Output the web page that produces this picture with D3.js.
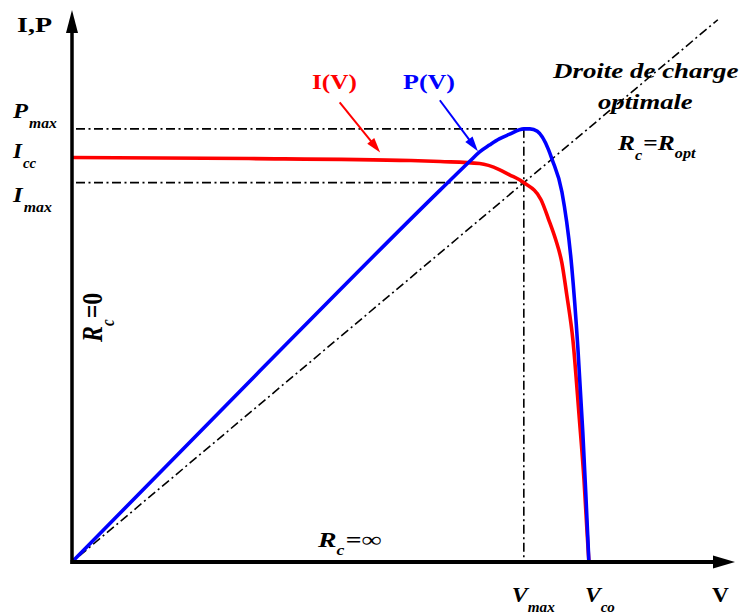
<!DOCTYPE html>
<html>
<head>
<meta charset="utf-8">
<script src="https://cdn.jsdelivr.net/npm/d3@7"></script>
<style>
  html, body { margin: 0; padding: 0; background: #fff; }
  svg { display: block; }
  text { font-family: "Liberation Serif", "Times New Roman", Tinos, serif; font-weight: bold; }
</style>
</head>
<body>
<svg id="chart" width="743" height="616"></svg>
<script>
// I(V) characteristic of the PV module (volts, amperes)
const voltsI  = [0, 7.2, 13.8, 15.0, 16.6, 17.4, 17.8, 18.4, 19.1, 19.4, 19.7, 19.95, 20.15, 20.4, 20.65, 20.85, 20.97, 21.05];
const current = [4.03, 4.02, 4.00, 3.99, 3.97, 3.91, 3.86, 3.78, 3.61, 3.42, 3.21, 2.98, 2.66, 2.21, 1.46, 0.82, 0.32, 0];

// P(V) characteristic (volts, watts)
const voltsP = [0, 7.5, 15.0, 16.2, 16.6, 17.0, 17.4, 17.8, 18.4, 18.65, 18.95, 19.4, 19.55, 19.95, 20.35, 20.6, 20.8, 20.93, 21.05];
const power  = [0, 30.1, 59.8, 64.4, 65.9, 67.0, 68.0, 68.7, 69.6, 69.6, 69.2, 66.3, 64.7, 59.5, 47.5, 34.5, 21.0, 10.5, 0];

// Characteristic points
const Vmax = 18.4, Vco = 21.05, Icc = 4.03, Imax = 3.78, Pmax = 69.6;
// Extent of the optimal load line  I = V / Ropt
const loadLineEndV = 26.3;

const svg = d3.select("#chart");
const x  = d3.scaleLinear().domain([0, 27]).range([72, 735]);
const yI = d3.scaleLinear().domain([0, 5.5]).range([562, 10]);
const yP = d3.scaleLinear().domain([0, 88.7]).range([562, 10]);

const dashDot = "9,3.5,2,3.5";

// ---- reference (dash-dot) lines ----
const ref = svg.append("g").attr("stroke", "#000").attr("stroke-width", 1.6)
  .attr("stroke-dasharray", dashDot).attr("fill", "none");
ref.append("line").attr("x1", x(0) + 4).attr("x2", x(Vmax)).attr("y1", yP(Pmax)).attr("y2", yP(Pmax));
ref.append("line").attr("x1", x(0) + 4).attr("x2", x(Vmax)).attr("y1", yI(Imax)).attr("y2", yI(Imax));
ref.append("line").attr("x1", x(Vmax)).attr("x2", x(Vmax)).attr("y1", yP(Pmax)).attr("y2", yI(0));
ref.append("line")
  .attr("x1", x(0.3)).attr("y1", yI(0.3 * Imax / Vmax))
  .attr("x2", x(loadLineEndV)).attr("y2", yI(loadLineEndV * Imax / Vmax));

// ---- curves ----
const ivLine = d3.line().x(d => x(d[0])).y(d => yI(d[1])).curve(d3.curveMonotoneX);
const pvLine = d3.line().x(d => x(d[0])).y(d => yP(d[1])).curve(d3.curveMonotoneX);

svg.append("path").datum(d3.zip(voltsI, current))
  .attr("d", ivLine).attr("fill", "none").attr("stroke", "#ff0000")
  .attr("stroke-width", 3.6).attr("stroke-linejoin", "round");
svg.append("path").datum(d3.zip(voltsP, power))
  .attr("d", pvLine).attr("fill", "none").attr("stroke", "#0000ff")
  .attr("stroke-width", 3.6).attr("stroke-linejoin", "round");

// ---- axes with arrow heads ----
const axes = svg.append("g");
axes.append("line").attr("x1", x(0) - 1.5).attr("x2", x(27) - 18)
  .attr("y1", yI(0)).attr("y2", yI(0)).attr("stroke", "#000").attr("stroke-width", 4);
axes.append("line").attr("x1", x(0)).attr("x2", x(0))
  .attr("y1", yI(0) + 2).attr("y2", yI(5.5) + 18).attr("stroke", "#000").attr("stroke-width", 3.5);
axes.append("path")
  .attr("d", `M${x(27)},${yI(0)} L${x(27) - 22},${yI(0) - 6.5} L${x(27) - 22},${yI(0) + 6.5} Z`)
  .attr("fill", "#000");
axes.append("path")
  .attr("d", `M${x(0)},${yI(5.5)} L${x(0) - 6},${yI(5.5) + 23} L${x(0) + 6},${yI(5.5) + 23} Z`)
  .attr("fill", "#000");

// ---- annotation arrows ----
function arrow(x1, y1, x2, y2, color) {
  const dx = x2 - x1, dy = y2 - y1, len = Math.hypot(dx, dy);
  const ux = dx / len, uy = dy / len, L = 15, w = 4.5;
  const bx = x2 - ux * L, by = y2 - uy * L;
  svg.append("line").attr("x1", x1).attr("y1", y1).attr("x2", bx + ux * 2).attr("y2", by + uy * 2)
    .attr("stroke", color).attr("stroke-width", 2);
  svg.append("path")
    .attr("d", `M${x2},${y2} L${bx - uy * w},${by + ux * w} L${bx + uy * w},${by - ux * w} Z`)
    .attr("fill", color);
}
arrow(x(10.9), yI(4.58), x(12.55), yI(4.08), "#ff0000");
arrow(x(14.98), yP(74.2), x(16.53), yP(66.0), "#0000ff");

// ---- text labels: parts are {t, size, italic, dy, dx}; the label is
// stretched horizontally so that it spans `width` pixels ----
function label(px, py, parts, opts = {}) {
  const g = svg.append("g");
  const t = g.append("text").attr("x", 0).attr("y", 0).attr("fill", opts.color || "#000");
  parts.forEach(p => {
    t.append("tspan").text(p.t)
      .attr("font-size", p.size || 22)
      .attr("font-style", p.italic ? "italic" : "normal")
      .attr("dy", p.dy || 0)
      .attr("dx", p.dx || 0);
  });
  let sx = 1.2;
  if (opts.width) sx = opts.width / t.node().getBBox().width;
  g.attr("transform", `translate(${px},${py}) scale(${sx},1)` + (opts.rotate ? ` rotate(${opts.rotate})` : ""));
  return g;
}

label(17, 32, [{t: "I,P"}], {width: 35});
label(13, yP(Pmax) - 11, [{t: "P", italic: true}, {t: "max", size: 14, italic: true, dy: 10, dx: 1}], {width: 45});
label(13, yI(Icc) + 0.5, [{t: "I", italic: true}, {t: "cc", size: 14, italic: true, dy: 10, dx: 1}], {width: 25});
label(13, yI(Imax) + 19, [{t: "I", italic: true}, {t: "max", size: 14, italic: true, dy: 10, dx: 1}], {width: 40});

label(x(Vmax) - 12, 602, [{t: "V", italic: true}, {t: "max", size: 14, italic: true, dy: 10, dx: 0}], {width: 43});
label(x(Vco) - 4, 602, [{t: "V", italic: true}, {t: "co", size: 14, italic: true, dy: 10, dx: 0}], {width: 30});
label(712, 602, [{t: "V"}], {width: 17});

label(312, 89, [{t: "I(V)"}], {color: "#ff0000", width: 45});
label(403, 89, [{t: "P(V)"}], {color: "#0000ff", width: 52});

label(553, 78, [{t: "Droite de charge", italic: true}], {width: 187});
label(598, 109, [{t: "optimale", italic: true}], {width: 95});
label(618, 150, [
  {t: "R", italic: true}, {t: "c", size: 14, italic: true, dy: 10, dx: 0},
  {t: "=", dy: -10, dx: 1}, {t: "R", italic: true},
  {t: "opt", size: 14, italic: true, dy: 8, dx: 0}
], {width: 80});

label(318, 547, [
  {t: "R", italic: true}, {t: "c", size: 14, italic: true, dy: 8, dx: 0},
  {t: "=∞", dy: -8, dx: 1}
], {width: 65});

label(102, 342, [
  {t: "R", size: 24, italic: true}, {t: "c", size: 15, italic: true, dy: 10, dx: 0},
  {t: "=0", size: 24, dy: -10, dx: 1}
], {rotate: -90});
</script>
</body>
</html>
